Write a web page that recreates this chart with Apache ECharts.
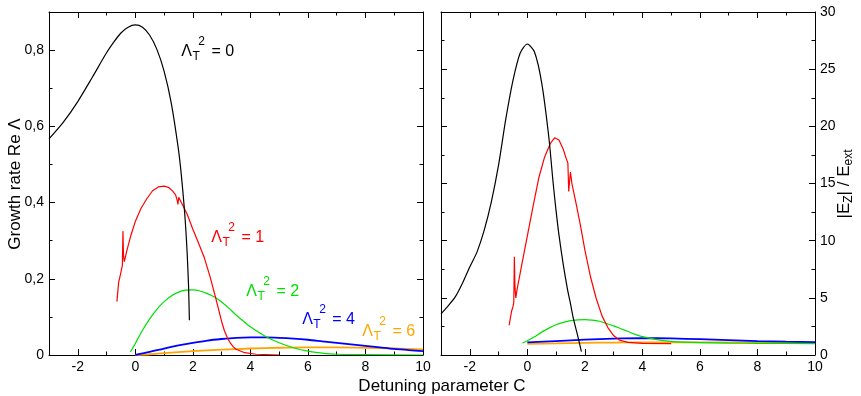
<!DOCTYPE html>
<html>
<head>
<meta charset="utf-8">
<script src="https://cdn.jsdelivr.net/npm/echarts@6/dist/echarts.min.js"></script>
<style>
  html, body { margin: 0; padding: 0; background: #fff; }
  #chart { width: 861px; height: 396px; }
</style>
</head>
<body>
<div id="chart"></div>
<script>
// Detuning parameter C (shared x axis of both panels)
const cTicksMajor = [-2, 0, 2, 4, 6, 8, 10];
const cTicksMinor = [-1, 1, 3, 5, 7, 9];
// Growth rate Re Λ (left panel)
const growthTicksMajor = [0, 0.2, 0.4, 0.6, 0.8];
const growthTicksMinor = [0.1, 0.3, 0.5, 0.7];
// Field enhancement |Ez|/Eext (right panel)
const fieldTicksMajor = [0, 5, 10, 15, 20, 25, 30];
const fieldTicksMinor = [2.5, 7.5, 12.5, 17.5, 22.5, 27.5];

// Λ_T² values of the five curves
const lambdaT2 = ['0', '1', '2', '4', '6'];

// Growth rate vs. C, one array per Λ_T²  ([C, Re Λ])
const growth0 = [[-3,0.567],[-2.5,0.611],[-2,0.665],[-1.5,0.728],[-1,0.793],[-0.75,0.821],[-0.5,0.845],[-0.25,0.860],[0,0.866],[0.25,0.860],[0.5,0.839],[0.75,0.802],[1,0.745],[1.25,0.661],[1.5,0.539],[1.6,0.472],[1.7,0.388],[1.75,0.336],[1.8,0.271],[1.85,0.182],[1.88,0.091]];
const growth1 = [[-0.64,0.14],[-0.58,0.19],[-0.52,0.21],[-0.45,0.235],[-0.43,0.325],[-0.41,0.26],[-0.38,0.245],[-0.3,0.272],[-0.15,0.315],[0,0.35],[0.2,0.385],[0.4,0.41],[0.6,0.431],[0.8,0.441],[1.0,0.443],[1.15,0.44],[1.3,0.43],[1.4,0.42],[1.46,0.405],[1.48,0.395],[1.51,0.414],[1.6,0.40],[1.8,0.37],[2.0,0.33],[2.2,0.293],[2.4,0.255],[2.6,0.205],[2.8,0.148],[3.0,0.088],[3.1,0.063],[3.2,0.045],[3.3,0.032],[3.4,0.022],[3.5,0.015],[3.8,0.006],[4.2,0.002],[5.0,0]];
const growth2 = [[-0.17,0.008],[0,0.03],[0.25,0.065],[0.5,0.095],[0.75,0.12],[1.0,0.14],[1.25,0.155],[1.5,0.165],[1.75,0.17],[2.0,0.171],[2.25,0.168],[2.5,0.161],[2.75,0.152],[3.0,0.139],[3.25,0.123],[3.5,0.105],[3.75,0.089],[4.0,0.074],[4.5,0.05],[5.0,0.032],[5.5,0.019],[6.0,0.01],[6.5,0.005],[7,0.002],[8,0.001],[10,0]];
const growth4 = [[0,0],[0.5,0.008],[1,0.017],[1.5,0.025],[2,0.032],[2.5,0.038],[3,0.042],[3.5,0.045],[4,0.046],[4.5,0.046],[5,0.045],[5.5,0.043],[6,0.04],[6.5,0.036],[7,0.032],[7.5,0.028],[8,0.024],[8.5,0.02],[9,0.016],[9.5,0.013],[10,0.01]];
const growth6 = [[0,0],[0.5,0.002],[1,0.005],[2,0.01],[3,0.014],[4,0.017],[5,0.019],[6,0.02],[7,0.02],[8,0.019],[9,0.017],[10,0.015]];

// Field ratio vs. C, one array per Λ_T²  ([C, |Ez|/Eext])
const field0 = [[-3,3.6],[-2.75,4.3],[-2.5,5.1],[-2.25,6.3],[-2,7.7],[-1.75,9.0],[-1.5,10.9],[-1.25,13.4],[-1,16.6],[-0.75,20.6],[-0.5,24.0],[-0.25,26.4],[0,27.2],[0.25,26.5],[0.5,23.8],[0.75,19.0],[0.9,15.0],[1.0,12.6],[1.1,10.5],[1.25,7.9],[1.4,5.7],[1.5,4.5],[1.6,3.2],[1.75,1.7],[1.88,0.3]];
const field1 = [[-0.63,2.6],[-0.55,3.8],[-0.5,4.2],[-0.47,4.6],[-0.45,8.6],[-0.43,6.0],[-0.4,5.0],[-0.35,5.8],[-0.2,7.8],[0,10.4],[0.2,13.0],[0.4,15.5],[0.6,17.3],[0.8,18.5],[0.95,19.0],[1.1,18.8],[1.25,18.0],[1.35,17.2],[1.41,16.8],[1.44,14.3],[1.47,15.2],[1.5,16.0],[1.55,15.0],[1.7,13.2],[1.85,11.3],[2.0,9.2],[2.2,6.8],[2.4,4.9],[2.6,3.4],[2.8,2.4],[3.0,1.7],[3.2,1.3],[3.5,1.1],[4.0,1.02],[5.0,1.0]];
const field2 = [[-0.17,1.05],[0,1.25],[0.25,1.6],[0.5,2.0],[0.75,2.35],[1,2.65],[1.25,2.85],[1.5,3.0],[1.75,3.07],[2,3.1],[2.25,3.05],[2.5,2.95],[2.75,2.75],[3,2.55],[3.25,2.3],[3.5,2.05],[3.75,1.8],[4,1.6],[4.5,1.35],[5,1.2],[5.5,1.12],[6,1.08],[7,1.04],[8,1.02],[10,1.0]];
const field4 = [[0,1.1],[1,1.22],[2,1.34],[3,1.43],[4,1.47],[5,1.45],[6,1.38],[7,1.3],[8,1.22],[9,1.17],[10,1.13]];
const field6 = [[0,0.98],[1,1.02],[2,1.06],[3,1.09],[4,1.1],[5,1.11],[6,1.11],[7,1.1],[8,1.1],[9,1.09],[10,1.08]];

const FONT = '"Liberation Sans", Arial, Helvetica, sans-serif';
const COLORS = ['#000000', '#ff0000', '#00e000', '#0000ff', '#ffa500'];
const WIDTHS = [1.2, 1.2, 1.2, 1.8, 1.8];

const chart = echarts.init(document.getElementById('chart'), null, { renderer: 'canvas' });

const fmtComma = v => (v === 0 ? '0' : v.toFixed(1).replace('.', ','));
const fmtInt = v => String(v);

// One frame side: a major-tick axis (with line) plus a minor-tick axis.
function sideAxes(grid, min, max, pos, majors, minors, labelFmt) {
  const common = { gridIndex: grid, type: 'value', min, max, position: pos, splitLine: { show: false }, axisPointer: { show: false } };
  const major = Object.assign({}, common, {
    axisLine: { show: true, onZero: false, lineStyle: { color: '#000', width: 1 } },
    axisTick: { show: true, inside: true, length: 6, customValues: majors, lineStyle: { color: '#000', width: 1 } },
    axisLabel: labelFmt ? { show: true, customValues: majors, formatter: labelFmt, margin: 5, color: '#000', fontSize: 14, fontFamily: FONT }
                        : { show: false }
  });
  const minor = Object.assign({}, common, {
    axisLine: { show: false, onZero: false },
    axisTick: { show: true, inside: true, length: 3.5, customValues: minors, lineStyle: { color: '#000', width: 1 } },
    axisLabel: { show: false }
  });
  return [major, minor];
}

const xAxis = [
  ...sideAxes(0, -3, 10, 'bottom', cTicksMajor, cTicksMinor, fmtInt),   // 0,1
  ...sideAxes(0, -3, 10, 'top', cTicksMajor, cTicksMinor, null),        // 2,3
  ...sideAxes(1, -3, 10, 'bottom', cTicksMajor, cTicksMinor, fmtInt),   // 4,5
  ...sideAxes(1, -3, 10, 'top', cTicksMajor, cTicksMinor, null)         // 6,7
];
const yAxis = [
  ...sideAxes(0, 0, 0.9, 'left', growthTicksMajor, growthTicksMinor, fmtComma), // 0,1
  ...sideAxes(0, 0, 0.9, 'right', growthTicksMajor, growthTicksMinor, null),    // 2,3
  ...sideAxes(1, 0, 30, 'left', fieldTicksMajor, fieldTicksMinor, null),        // 4,5
  ...sideAxes(1, 0, 30, 'right', fieldTicksMajor, fieldTicksMinor, fmtInt)      // 6,7
];

function curve(data, i, xi, yi, smooth) {
  return {
    type: 'line', data, xAxisIndex: xi, yAxisIndex: yi,
    symbol: 'none', showSymbol: false, smooth, silent: true, clip: true,
    lineStyle: { color: COLORS[i], width: WIDTHS[i] }, z: 10 - i
  };
}

const growthSets = [growth0, growth1, growth2, growth4, growth6];
const fieldSets = [field0, field1, field2, field4, field6];
const smoothing = [0.25, false, 0.3, 0.3, 0.3];

const series = [];
growthSets.forEach((d, i) => series.push(curve(d, i, 0, 0, smoothing[i])));
fieldSets.forEach((d, i) => series.push(curve(d, i, 4, 6, smoothing[i])));

chart.setOption({
  animation: false,
  backgroundColor: '#fff',
  grid: [
    { left: 49, top: 12, width: 374, height: 343, containLabel: false },
    { left: 441, top: 12, width: 374, height: 343, containLabel: false }
  ],
  xAxis, yAxis, series
});

// Text composed of pieces (subscripts, superscripts) laid out left to right.
const measureCtx = document.createElement('canvas').getContext('2d');
function textWidth(str, size) {
  measureCtx.font = size + 'px ' + FONT;
  return measureCtx.measureText(str).width;
}
function pieceText(x, y, parts, color, rotation, centered) {
  let cx = 0;
  const children = parts.map(p => {
    cx += (p.dx || 0);
    const el = {
      type: 'text', x: cx, y: p.dy || 0, silent: true,
      style: { text: p.t, fontSize: p.s, fontFamily: FONT, fill: color, align: 'left', verticalAlign: 'middle' }
    };
    cx += textWidth(p.t, p.s);
    return el;
  });
  if (centered) children.forEach(c => { c.x -= cx / 2; });
  return { type: 'group', x, y, rotation: rotation || 0, children, silent: true };
}

// Curve labels Λ_T² = n, anchored in data coordinates of the left panel
const labelAnchors = [[1.6, 0.797], [2.64, 0.308], [3.86, 0.166], [5.8, 0.093], [7.89, 0.061]];
const graphics = lambdaT2.map((n, i) => {
  const p = chart.convertToPixel({ xAxisIndex: 0, yAxisIndex: 0 }, labelAnchors[i]);
  return pieceText(p[0], p[1], [
    { t: 'Λ', s: 16 },
    { t: 'T', s: 12, dy: 5, dx: 0.5 },
    { t: '2', s: 12, dy: -10, dx: -1.5 },
    { t: ' = ' + n, s: 16, dx: 2 }
  ], COLORS[i], 0, false);
});

// Axis titles
graphics.push(pieceText(442, 386, [{ t: 'Detuning parameter C', s: 17 }], '#000', 0, true));
graphics.push(pieceText(15, 184, [{ t: 'Growth rate Re Λ', s: 17 }], '#000', Math.PI / 2, true));
graphics.push(pieceText(844, 184, [
  { t: '|E', s: 17 },
  { t: 'Z', s: 12, dy: 5 },
  { t: '| / E', s: 17 },
  { t: 'ext', s: 12, dy: 5 }
], '#000', Math.PI / 2, true));

chart.setOption({ graphic: graphics });
</script>
</body>
</html>
